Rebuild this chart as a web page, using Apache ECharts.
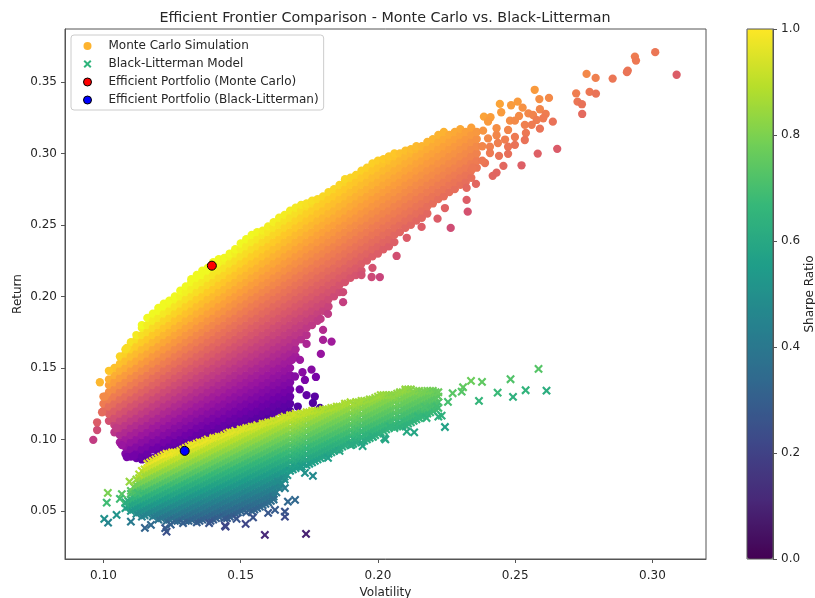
<!DOCTYPE html>
<html><head><meta charset="utf-8">
<style>html,body{margin:0;padding:0;background:#fff}#c{width:815px;height:598px}</style>
<script src="https://cdn.jsdelivr.net/npm/echarts@6/dist/echarts.min.js"></script>
</head><body><div id="c"></div>
<script>
// Columns: first entry = volatility x1000, the rest = returns x1000
const mcColumns = [
[100,120,125,130],
[102,113,118,123,128,133,138,142],
[104,105,110,115,120,125,130,135,140,145,150],
[106,98,103,108,113,118,123,128,133,138,143,148,153,158],
[108,90,95,100,105,110,115,120,125,130,135,140,145,150,155,160,163],
[110,88,93,98,103,108,113,118,123,128,133,138,143,148,153,158,163,168],
[112,87,90,95,100,105,110,115,120,125,130,135,140,145,150,155,160,165,170,173],
[114,86,88,93,98,103,108,113,118,123,128,133,138,143,148,153,158,163,168,173,178,180],
[116,86,90,95,100,105,110,115,120,125,130,135,140,145,150,155,160,165,170,175,180,185],
[118,87,93,98,103,108,113,118,123,128,133,138,143,148,153,158,163,168,173,178,183,188],
[120,88,90,95,100,105,110,115,120,125,130,135,140,145,150,155,160,165,170,175,180,185,190,192],
[122,89,93,98,103,108,113,118,123,128,133,138,143,148,153,158,163,168,173,178,183,188,193,195],
[124,90,95,100,105,110,115,120,125,130,135,140,145,150,155,160,165,170,175,180,185,190,195,197],
[126,91,93,98,103,108,113,118,123,128,133,138,143,148,153,158,163,168,173,178,183,188,193,198,200],
[128,92,95,100,105,110,115,120,125,130,135,140,145,150,155,160,165,170,175,180,185,190,195,200,204],
[130,94,98,103,108,113,118,123,128,133,138,143,148,153,158,163,168,173,178,183,188,193,198,203,207],
[132,95,100,105,110,115,120,125,130,135,140,145,150,155,160,165,170,175,180,185,190,195,200,205,210,212],
[134,98,103,108,113,118,123,128,133,138,143,148,153,158,163,168,173,178,183,188,193,198,203,208,213,215],
[136,100,105,110,115,120,125,130,135,140,145,150,155,160,165,170,175,180,185,190,195,200,205,210,215,218],
[138,98,103,108,113,118,123,128,133,138,143,148,153,158,163,168,173,178,183,188,193,198,203,208,213,218,220],
[140,100,105,110,115,120,125,130,135,140,145,150,155,160,165,170,175,180,185,190,195,200,205,210,215,220,224],
[142,103,108,113,118,123,128,133,138,143,148,153,158,163,168,173,178,183,188,193,198,203,208,213,218,223,226],
[144,105,110,115,120,125,130,135,140,145,150,155,160,165,170,175,180,185,190,195,200,205,210,215,220,225,227],
[146,108,113,118,123,128,133,138,143,148,153,158,163,168,173,178,183,188,193,198,203,208,213,218,223,228,230],
[148,105,110,115,120,125,130,135,140,145,150,155,160,165,170,175,180,185,190,195,200,205,210,215,220,225,230,233],
[150,108,113,118,123,128,133,138,143,148,153,158,163,168,173,178,183,188,193,198,203,208,213,218,223,228,233,237],
[152,110,115,120,125,130,135,140,145,150,155,160,165,170,175,180,185,190,195,200,205,210,215,220,225,230,235,240],
[154,113,118,123,128,133,138,143,148,153,158,163,168,173,178,183,188,193,198,203,208,213,218,223,228,233,238,243],
[156,110,115,120,125,130,135,140,145,150,155,160,165,170,175,180,185,190,195,200,205,210,215,220,225,230,235,240,245],
[158,113,118,123,128,133,138,143,148,153,158,163,168,173,178,183,188,193,198,203,208,213,218,223,228,233,238,243,246],
[160,115,120,125,130,135,140,145,150,155,160,165,170,175,180,185,190,195,200,205,210,215,220,225,230,235,240,245,249],
[162,118,123,128,133,138,143,148,153,158,163,168,173,178,183,188,193,198,203,208,213,218,223,228,233,238,243,248,252],
[164,120,125,130,135,140,145,150,155,160,165,170,175,180,185,190,195,200,205,210,215,220,225,230,235,240,245,250,255],
[166,118,123,128,133,138,143,148,153,158,163,168,173,178,183,188,193,198,203,208,213,218,223,228,233,238,243,248,253,257],
[168,120,125,130,135,140,145,150,155,160,165,170,175,180,185,190,195,200,205,210,215,220,225,230,235,240,245,250,255,260],
[170,158,163,168,173,178,183,188,193,198,203,208,213,218,223,228,233,238,243,248,253,258,262],
[172,170,175,180,185,190,195,200,205,210,215,220,225,230,235,240,245,250,255,260,264],
[174,173,178,183,188,193,198,203,208,213,218,223,228,233,238,243,248,253,258,263,265],
[176,180,185,190,195,200,205,210,215,220,225,230,235,240,245,250,255,260,265,267],
[178,183,188,193,198,203,208,213,218,223,228,233,238,243,248,253,258,263,268],
[180,190,195,200,205,210,215,220,225,230,235,240,245,250,255,260,265,270],
[182,193,198,203,208,213,218,223,228,233,238,243,248,253,258,263,268,273],
[184,200,205,210,215,220,225,230,235,240,245,250,255,260,265,270,275],
[186,203,208,213,218,223,228,233,238,243,248,253,258,263,268,273,278],
[188,210,215,220,225,230,235,240,245,250,255,260,265,270,275,280,282],
[190,213,218,223,228,233,238,243,248,253,258,263,268,273,278,283],
[192,215,220,225,230,235,240,245,250,255,260,265,270,275,280,285],
[194,218,223,228,233,238,243,248,253,258,263,268,273,278,283,288],
[196,225,230,235,240,245,250,255,260,265,270,275,280,285,290],
[198,228,233,238,243,248,253,258,263,268,273,278,283,288,293],
[200,230,235,240,245,250,255,260,265,270,275,280,285,290,295],
[202,233,238,243,248,253,258,263,268,273,278,283,288,293,296],
[204,235,240,245,250,255,260,265,270,275,280,285,290,295,298],
[206,238,243,248,253,258,263,268,273,278,283,288,293,298,300],
[208,245,250,255,260,265,270,275,280,285,290,295,300],
[210,248,253,258,263,268,273,278,283,288,293,298,302],
[212,250,255,260,265,270,275,280,285,290,295,300,303],
[214,253,258,263,268,273,278,283,288,293,298,303,305],
[216,255,260,265,270,275,280,285,290,295,300,305],
[218,258,263,268,273,278,283,288,293,298,303,308],
[220,265,270,275,280,285,290,295,300,305,310],
[222,268,273,278,283,288,293,298,303,308,313],
[224,270,275,280,285,290,295,300,305,310,315],
[226,273,278,283,288,293,298,303,308,313],
[228,275,280,285,290,295,300,305,310,315],
[230,278,283,288,293,298,303,308,313,317],
[232,280,285,290,295,300,305,310,315],
[234,283,288,293,298,303,308,313,318],
[236,290,295,300,305,310,315]
];
// Loose Monte Carlo points: [volatility, return]
const mcLoose = [
[.0963,.0997],[.0977,.1066],[.0977,.112],[.0995,.119],[.0987,.14],[.102,.148],[.1085,.164],[.1005,.13],[.1047,.108],[.1067,.096],[.1085,.0877],[.111,.0885],
[.1698,.144],[.1734,.1416],[.1774,.1437],[.1758,.1488],[.174,.131],[.177,.13],[.1789,.122],[.1763,.1255],[.1708,.123],[.1716,.1556],[.174,.1668],[.1792,.1598],[.18,.1696],[.1831,.1684],[.18,.1766],[.1791,.1843],[.1818,.1878],[.1687,.1556],[.1715,.135],[.1725,.147],
[.1873,.196],[.1873,.203],[.2007,.2135],[.1977,.2136],[.194,.215],[.2068,.2283],[.198,.22],[.2105,.241],[.2159,.2486],[.2217,.2544],[.2265,.2479],[.2244,.2618],[.2323,.2675],[.2327,.2593],
[.301,.3708],[.2936,.3677],[.294,.3649],[.291,.3579],[.2907,.3568],[.3088,.355],[.2855,.3523],[.2793,.3528],[.276,.3556],[.2771,.343],[.2794,.3418],[.2722,.342],[.2727,.3362],[.2743,.3344],[.2744,.3276],
[.2571,.3445],[.2588,.338],[.2623,.3388],[.2637,.3222],[.259,.3173],[.2653,.3032],[.2582,.2999],[.2523,.2917],[.2444,.3346],[.2509,.3362],[.2485,.3337],[.2527,.332],[.2449,.3288],[.2386,.3257],[.241,.3253],[.259,.3309],[.2611,.3276],[.2602,.3246],[.2548,.328],[.2565,.3269],[.2514,.3262],[.2481,.3229],[.2499,.3229],[.2578,.3234],[.2535,.32],[.256,.32],[.2432,.3176],[.2401,.3222],[.2474,.3164],[.2539,.3143],[.2383,.3159],[.2535,.3094],[.2499,.3115],[.2432,.3127],[.2463,.3097],[.2401,.3105],[.2499,.306],[.2474,.3047],[.2437,.3073],[.2408,.3047],[.2474,.2997],[.2441,.2983],[.2408,.3003],[.2457,.2913],[.239,.2933],[.2432,.2866],[.2418,.2843],[.2357,.2787],[.2323,.2759],[.238,.305],[.238,.295],[.2345,.29]
];
const blColumns = [
[108,52,56],
[109,53,57],
[110,50,54,58,62,64],
[111,51,55,59,63,67],
[112,48,52,56,60,64,68,72],
[113,49,53,57,61,65,69,73],
[114,46,50,54,58,62,66,70,74,78],
[115,47,51,55,59,63,67,71,75,79],
[116,48,52,56,60,64,68,72,76,80,83],
[117,49,53,57,61,65,69,73,77,81,84],
[118,46,50,54,58,62,66,70,74,78,82,85],
[119,47,51,55,59,63,67,71,75,79,83,86],
[120,44,48,52,56,60,64,68,72,76,80,84,87],
[121,45,49,53,57,61,65,69,73,77,81,85,88],
[122,46,50,54,58,62,66,70,74,78,82,86,89],
[123,43,47,51,55,59,63,67,71,75,79,83,87,90],
[124,44,48,52,56,60,64,68,72,76,80,84,88,90],
[125,45,49,53,57,61,65,69,73,77,81,85,89,91],
[126,43,46,50,54,58,62,66,70,74,78,82,86,90,91],
[127,43,47,51,55,59,63,67,71,75,79,83,87,91],
[128,44,48,52,56,60,64,68,72,76,80,84,88,92],
[129,45,49,53,57,61,65,69,73,77,81,85,89,93],
[130,43,46,50,54,58,62,66,70,74,78,82,86,90,94],
[131,43,47,51,55,59,63,67,71,75,79,83,87,91,95],
[132,44,48,52,56,60,64,68,72,76,80,84,88,92,96],
[133,45,49,53,57,61,65,69,73,77,81,85,89,93,96],
[134,42,46,50,54,58,62,66,70,74,78,82,86,90,94,97],
[135,43,47,51,55,59,63,67,71,75,79,83,87,91,95,98],
[136,44,48,52,56,60,64,68,72,76,80,84,88,92,96,98],
[137,45,49,53,57,61,65,69,73,77,81,85,89,93,97,99],
[138,46,50,54,58,62,66,70,74,78,82,86,90,94,98,100],
[139,43,47,51,55,59,63,67,71,75,79,83,87,91,95,99],
[140,44,48,52,56,60,64,68,72,76,80,84,88,92,96,100,101],
[141,45,49,53,57,61,65,69,73,77,81,85,89,93,97,101],
[142,46,50,54,58,62,66,70,74,78,82,86,90,94,98,102],
[143,47,51,55,59,63,67,71,75,79,83,87,91,95,99,102],
[144,45,48,52,56,60,64,68,72,76,80,84,88,92,96,100,103],
[145,45,49,53,57,61,65,69,73,77,81,85,89,93,97,101,104],
[146,46,50,54,58,62,66,70,74,78,82,86,90,94,98,102,105],
[147,47,51,55,59,63,67,71,75,79,83,87,91,95,99,103,105],
[148,48,52,56,60,64,68,72,76,80,84,88,92,96,100,104,106],
[149,49,53,57,61,65,69,73,77,81,85,89,93,97,101,105],
[150,50,54,58,62,66,70,74,78,82,86,90,94,98,102,106,107],
[151,51,55,59,63,67,71,75,79,83,87,91,95,99,103,107],
[152,49,52,56,60,64,68,72,76,80,84,88,92,96,100,104,108],
[153,53,57,61,65,69,73,77,81,85,89,93,97,101,105,108],
[154,50,54,58,62,66,70,74,78,82,86,90,94,98,102,106,109],
[155,51,55,59,63,67,71,75,79,83,87,91,95,99,103,107,109],
[156,52,56,60,64,68,72,76,80,84,88,92,96,100,104,108,110],
[157,53,57,61,65,69,73,77,81,85,89,93,97,101,105,109],
[158,54,58,62,66,70,74,78,82,86,90,94,98,102,106,110,111],
[159,55,59,63,67,71,75,79,83,87,91,95,99,103,107,111],
[160,56,60,64,68,72,76,80,84,88,92,96,100,104,108,112],
[161,57,61,65,69,73,77,81,85,89,93,97,101,105,109,112],
[162,60,62,66,70,74,78,82,86,90,94,98,102,106,110,113],
[163,63,67,71,75,79,83,87,91,95,99,103,107,111,113],
[164,66,68,72,76,80,84,88,92,96,100,104,108,112,114],
[165,69,73,77,81,85,89,93,97,101,105,109,113,115],
[166,72,74,78,82,86,90,94,98,102,106,110,114,116],
[167,75,79,83,87,91,95,99,103,107,111,115],
[168,78,80,84,88,92,96,100,104,108,112,116,117],
[169,79,83,87,91,95,99,103,107,111,115,117],
[170,80,82,86,90,94,98,102,106,110,114,118],
[171,81,85,89,93,97,101,105,109,113,117],
[172,81,84,88,92,96,100,104,108,112,116,118],
[173,83,87,91,95,99,103,107,111,115,118],
[174,82,86,90,94,98,102,106,110,114,118,119],
[175,83,87,91,95,99,103,107,111,115,119],
[176,84,88,92,96,100,104,108,112,116,120],
[177,85,89,93,97,101,105,109,113,117,120],
[178,86,90,94,98,102,106,110,114,118,120],
[179,87,91,95,99,103,107,111,115,119],
[180,88,92,96,100,104,108,112,116,120,121],
[181,89,93,97,101,105,109,113,117,121],
[182,90,94,98,102,106,110,114,118,121],
[183,91,95,99,103,107,111,115,119,122],
[184,92,96,100,104,108,112,116,120,122],
[185,93,97,101,105,109,113,117,121,123],
[186,92,94,98,102,106,110,114,118,122,123],
[187,95,99,103,107,111,115,119,123],
[188,96,100,104,108,112,116,120,124,125],
[189,97,101,105,109,113,117,121,125],
[190,96,98,102,106,110,114,118,122,126],
[191,97,101,105,109,113,117,121,125],
[192,98,100,104,108,112,116,120,124,126],
[193,99,103,107,111,115,119,123,126],
[194,98,102,106,110,114,118,122,126,127],
[195,99,103,107,111,115,119,123,127],
[196,100,104,108,112,116,120,124,127],
[197,101,105,109,113,117,121,125,128],
[198,102,106,110,114,118,122,126,128],
[199,103,107,111,115,119,123,127,129],
[200,104,108,112,116,120,124,128,130],
[201,105,109,113,117,121,125,129,131],
[202,106,110,114,118,122,126,130,131],
[203,107,111,115,119,123,127,131],
[204,108,112,116,120,124,128,131],
[205,109,113,117,121,125,129,131],
[206,108,110,114,118,122,126,130,131],
[207,109,113,117,121,125,129,132],
[208,109,112,116,120,124,128,132,133],
[209,110,113,117,121,125,129,133],
[210,110,114,118,122,126,130,134,135],
[211,111,115,119,123,127,131,135],
[212,112,116,120,124,128,132,135],
[213,113,117,121,125,129,133],
[214,114,118,122,126,130,134],
[215,115,119,123,127,131,134],
[216,116,120,124,128,132,133],
[217,117,121,125,129,133],
[218,118,122,126,130,134],
[219,119,123,127,131,134],
[220,120,124,128,132,134],
[221,121,125,129,133],
[222,122,126,130,133]
];
const blLoose = [
[.1016,.0626],[.1067,.0618],[.1012,.0558],[.1048,.0472],[.1003,.0444],[.1017,.0418],[.11,.0425],[.1151,.0381],[.1173,.0402],[.123,.0355],[.1225,.038],[.1443,.0397],[.1518,.0409],[.1588,.0332],[.1738,.0339],[.1661,.046],[.1661,.0495],[.1625,.0507],[.16,.0486],[.1672,.0565],[.1698,.0577],[.162,.058],[.1661,.066],[.1636,.0705],[.1734,.0766],[.1763,.0745],[.1722,.081],[.1445,.039],[.1245,.0405],[.129,.0415],[.1385,.0415],[.1485,.0445],[.1545,.0455],[.108,.0555],[.106,.0585],[.1125,.0625],[.1095,.0705],[.113,.0755],
[.2585,.1493],[.2483,.1421],[.2379,.1402],[.2339,.1409],[.231,.1365],[.2272,.1323],[.2305,.1334],[.2614,.1341],[.2538,.1344],[.2436,.1327],[.2492,.1297],[.2368,.1269],[.2255,.1262],[.2232,.1166],[.222,.116],[.2244,.1087],[.2177,.115],[.2146,.116],[.2171,.1227],[.2214,.123],[.2132,.105],[.2105,.1055],[.2044,.109],[.2023,.101],[.2027,.1],[.1982,.1018],[.1944,.0954],[.1904,.0962],[.1818,.0871]
];
const mcBest = [.1395,.2215];
const blBest = [.1296,.092];
const xTicks = [.10,.15,.20,.25,.30];
const yTicks = [.05,.10,.15,.20,.25,.30,.35];
const barTicks = [0,.2,.4,.6,.8,1];
const plasma = ['#0d0887','#46039f','#7201a8','#9c179e','#bd3786','#d8576b','#ed7953','#fb9f3a','#fdca26','#f0f921'];
const viridis = ['#440154','#482878','#3e4989','#31688e','#26828e','#1f9e89','#35b779','#6ece58','#b5de2b','#fde725'];

const build = (cols, loose) => {
  const pts = [];
  cols.forEach(c => { for (let i = 1; i < c.length; i++) pts.push([c[0]/1000, c[i]/1000, c[i]/c[0]]); });
  loose.forEach(p => pts.push([p[0], p[1], p[1]/p[0]]));
  return pts;
};
const X = 'path://M1.4,0 L4,2.6 L6.6,0 L8,1.4 L5.4,4 L8,6.6 L6.6,8 L4,5.4 L1.4,8 L0,6.6 L2.6,4 L0,1.4 Z';
const F = 'DejaVu Sans', INK = '#262626', LINE = '#555';
const axisBase = {
  nameLocation:'middle', nameTextStyle:{fontFamily:F,fontSize:12,color:INK},
  axisLine:{show:true,onZero:false,lineStyle:{color:LINE,width:1}},
  splitLine:{show:false}
};
const chart = echarts.init(document.getElementById('c'), null, {renderer:'canvas'});
chart.setOption({
  animation:false, backgroundColor:'#fff',
  title:{text:'Efficient Frontier Comparison - Monte Carlo vs. Black-Litterman',left:380,top:6,textAlign:'center',
    textStyle:{fontFamily:F,fontSize:14.3,fontWeight:'normal',color:INK}},
  legend:{left:71,top:35,orient:'vertical',itemWidth:8,itemHeight:8,itemGap:6,padding:[5,5,4,12],
    backgroundColor:'rgba(255,255,255,0.8)',borderColor:'#ccc',borderWidth:1,borderRadius:3,
    textStyle:{fontFamily:F,fontSize:12,lineHeight:12,color:INK,padding:[0,0,0,12]},
    data:[
      {name:'Monte Carlo Simulation',icon:'circle',itemStyle:{color:'#fdb32f',opacity:1}},
      {name:'Black-Litterman Model',icon:X,itemStyle:{color:'#2fb47c',opacity:1}},
      {name:'Efficient Portfolio (Monte Carlo)',icon:'circle',itemStyle:{color:'#f00',borderColor:'#000',borderWidth:1,opacity:1}},
      {name:'Efficient Portfolio (Black-Litterman)',icon:'circle',itemStyle:{color:'#00f',borderColor:'#000',borderWidth:1,opacity:1}}
    ]},
  grid:[
    {left:65,top:29,width:641,height:530,show:true,borderColor:LINE,borderWidth:1,backgroundColor:'#fff',outerBoundsMode:'none'},
    {left:747,top:29,width:26,height:530,show:true,borderColor:LINE,borderWidth:1,backgroundColor:'transparent',z:10,outerBoundsMode:'none'}
  ],
  xAxis:[
    Object.assign({},axisBase,{gridIndex:0,type:'value',name:'Volatility',nameGap:23,min:.086,max:.3195,
      axisTick:{show:true,length:4,lineStyle:{color:LINE},customValues:xTicks},
      axisLabel:{fontFamily:F,fontSize:12,color:INK,margin:11,customValues:xTicks,formatter:v=>v.toFixed(2)}}),
    {gridIndex:1,type:'value',min:0,max:1,show:false}
  ],
  yAxis:[
    Object.assign({},axisBase,{gridIndex:0,type:'value',name:'Return',nameGap:41,nameMoveOverlap:false,min:.0164,max:.387,
      axisTick:{show:true,length:4,lineStyle:{color:LINE},customValues:yTicks},
      axisLabel:{fontFamily:F,fontSize:12,color:INK,margin:8,customValues:yTicks,formatter:v=>v.toFixed(2)}}),
    Object.assign({},axisBase,{gridIndex:1,type:'value',position:'right',name:'Sharpe Ratio',nameGap:31,nameRotate:90,min:0,max:1,z:10,
      axisTick:{show:true,length:4,lineStyle:{color:LINE},customValues:barTicks},
      axisLabel:{fontFamily:F,fontSize:12,color:INK,margin:8,customValues:barTicks,formatter:v=>v.toFixed(1)}})
  ],
  visualMap:[
    {show:false,seriesIndex:0,dimension:2,min:.57,max:1.58,inRange:{color:plasma}},
    {show:true,type:'continuous',seriesIndex:1,dimension:2,min:.14,max:.74,inRange:{color:viridis},
     left:747,top:29,itemWidth:26,itemHeight:530,padding:0,text:['',''],textGap:0,calculable:false,hoverLink:false,realtime:false}
  ],
  series:[
    {name:'Monte Carlo Simulation',type:'scatter',xAxisIndex:0,yAxisIndex:0,symbolSize:8.3,large:false,progressive:0,itemStyle:{opacity:1},data:build(mcColumns,mcLoose),emphasis:{disabled:true},z:2},
    {name:'Black-Litterman Model',type:'scatter',xAxisIndex:0,yAxisIndex:0,symbol:X,symbolSize:8.8,large:false,progressive:0,itemStyle:{opacity:1},data:build(blColumns,blLoose),emphasis:{disabled:true},z:3},
    {name:'Efficient Portfolio (Monte Carlo)',type:'scatter',xAxisIndex:0,yAxisIndex:0,symbolSize:9,data:[mcBest],itemStyle:{color:'#f00',borderColor:'#000',borderWidth:1,opacity:1},z:5},
    {name:'Efficient Portfolio (Black-Litterman)',type:'scatter',xAxisIndex:0,yAxisIndex:0,symbolSize:9,data:[blBest],itemStyle:{color:'#00f',borderColor:'#000',borderWidth:1,opacity:1},z:5}
  ]
});
</script></body></html>
